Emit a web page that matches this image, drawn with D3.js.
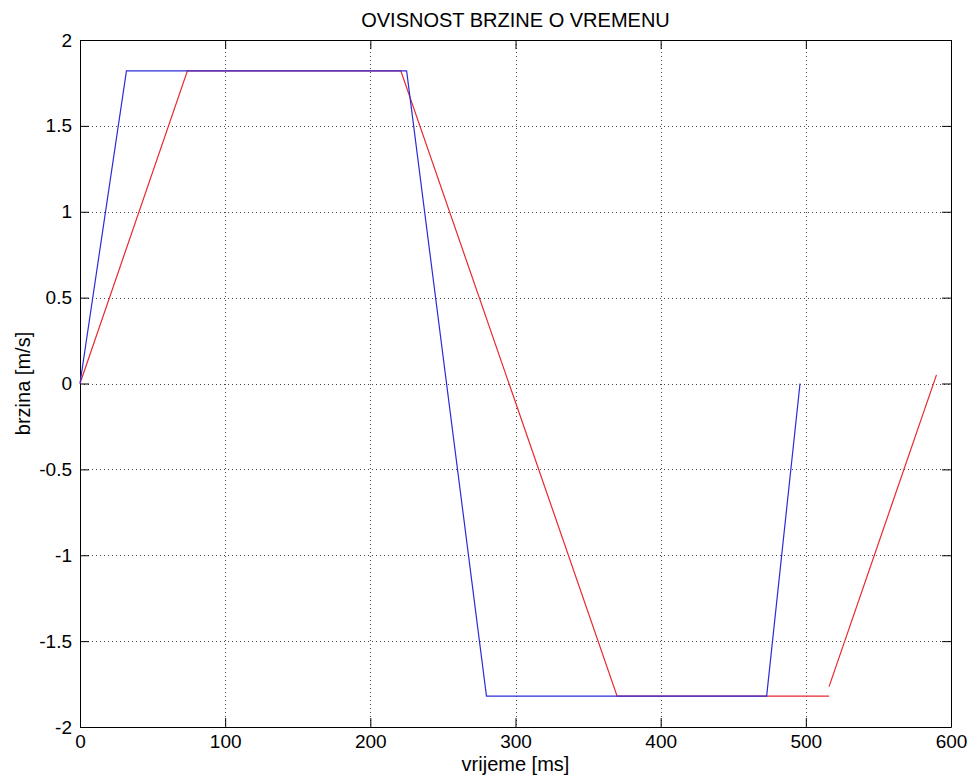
<!DOCTYPE html>
<html>
<head>
<meta charset="utf-8">
<script src="https://cdn.jsdelivr.net/npm/d3@7"></script>
<style>
  html, body { margin: 0; padding: 0; background: #fff; }
  svg { display: block; }
  text { font-family: "Liberation Sans", Arial, sans-serif; fill: #000; }
</style>
</head>
<body>
<div id="chart"></div>
<script>
// ---- data ----
const titleText = "OVISNOST BRZINE O VREMENU";
const xLabelText = "vrijeme [ms]";
const yLabelText = "brzina [m/s]";
const xTicks = [0, 100, 200, 300, 400, 500, 600];
const yTicks = [-2, -1.5, -1, -0.5, 0, 0.5, 1, 1.5, 2];

const blueT = [0, 32, 225, 280, 473, 496];
const blueV = [0, 1.82, 1.82, -1.82, -1.82, 0];

const redT = [0, 74, 221, 370, 516];
const redV = [0, 1.82, 1.82, -1.82, -1.82];

const red2T = [516, 590];
const red2V = [-1.765, 0.05];

// ---- layout ----
const W = 971, H = 781;
const m = { left: 80, right: 20, top: 40, bottom: 54 };
const iw = W - m.left - m.right, ih = H - m.top - m.bottom;

const svg = d3.select("#chart").append("svg").attr("width", W).attr("height", H);

const x = d3.scaleLinear().domain([0, 600]).range([m.left, m.left + iw]);
const y = d3.scaleLinear().domain([-2, 2]).range([m.top + ih, m.top]);

const fmt = d => (d === 0 ? "0" : String(d));

// grid
const grid = svg.append("g").attr("stroke", "#444").attr("stroke-width", 1)
  .attr("stroke-dasharray", "1,3").attr("fill", "none");
xTicks.filter(t => t > 0 && t < 600).forEach(t => {
  grid.append("line").attr("x1", Math.round(x(t)) + 0.5).attr("x2", Math.round(x(t)) + 0.5)
    .attr("y1", m.top).attr("y2", m.top + ih);
});
yTicks.filter(t => t > -2 && t < 2).forEach(t => {
  grid.append("line").attr("y1", Math.round(y(t)) + 0.5).attr("y2", Math.round(y(t)) + 0.5)
    .attr("x1", m.left).attr("x2", m.left + iw);
});

// axes (inward ticks, all four sides)
const tl = 9;
const axB = svg.append("g").attr("transform", `translate(0,${m.top + ih})`)
  .call(d3.axisBottom(x).tickValues(xTicks).tickFormat(fmt).tickSizeInner(-tl).tickSizeOuter(0));
const axT = svg.append("g").attr("transform", `translate(0,${m.top})`)
  .call(d3.axisTop(x).tickValues(xTicks).tickFormat("").tickSizeInner(-tl).tickSizeOuter(0));
const axL = svg.append("g").attr("transform", `translate(${m.left},0)`)
  .call(d3.axisLeft(y).tickValues(yTicks).tickFormat(fmt).tickSizeInner(-tl).tickSizeOuter(0));
const axR = svg.append("g").attr("transform", `translate(${m.left + iw},0)`)
  .call(d3.axisRight(y).tickValues(yTicks).tickFormat("").tickSizeInner(-tl).tickSizeOuter(0));

[axB, axT, axL, axR].forEach(a => {
  a.select(".domain").attr("stroke", "#000").attr("stroke-width", 1);
  a.selectAll(".tick line").attr("stroke", "#000");
  a.selectAll("text").attr("font-size", 19).attr("font-family", "Liberation Sans, Arial, sans-serif").attr("fill", "#000");
});
axB.selectAll("text").attr("dy", "0.71em").attr("y", 8);
axL.selectAll("text").attr("x", -8);

// lines
const line = d3.line().x(d => x(d[0])).y(d => y(d[1]));
const zip = (a, b) => a.map((v, i) => [v, b[i]]);

svg.append("path").datum(zip(redT, redV)).attr("d", line)
  .attr("fill", "none").attr("stroke", "#e8282e").attr("stroke-width", 1.2);
svg.append("path").datum(zip(red2T, red2V)).attr("d", line)
  .attr("fill", "none").attr("stroke", "#e8282e").attr("stroke-width", 1.2);
svg.append("path").datum(zip(blueT, blueV)).attr("d", line)
  .attr("fill", "none").attr("stroke", "#2b2bd8").attr("stroke-width", 1.2);

// labels
svg.append("text").attr("x", m.left + iw / 2).attr("y", 27).attr("text-anchor", "middle")
  .attr("font-size", 20).text(titleText);
svg.append("text").attr("x", m.left + iw / 2).attr("y", 771).attr("text-anchor", "middle")
  .attr("font-size", 20).text(xLabelText);
svg.append("text").attr("transform", `translate(30,${m.top + ih / 2}) rotate(-90)`)
  .attr("text-anchor", "middle").attr("font-size", 20).text(yLabelText);
</script>
</body>
</html>
